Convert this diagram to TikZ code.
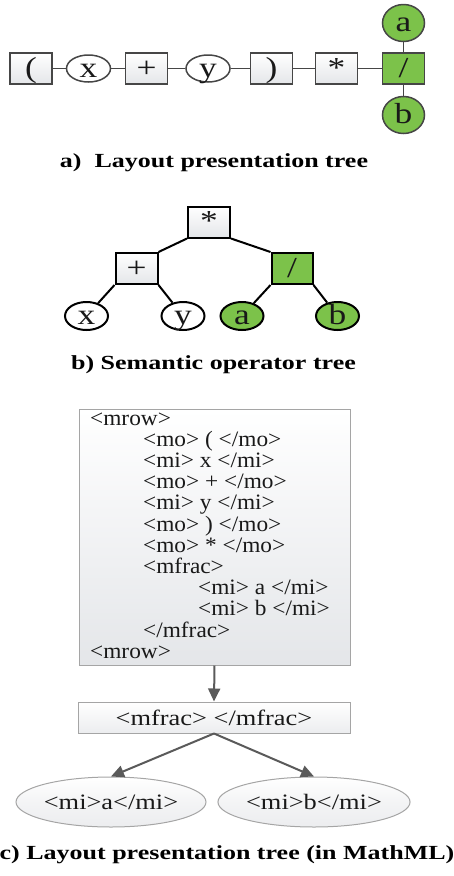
\documentclass[tikz,border=0pt]{standalone}
\usepackage{fontspec}
\setmainfont{Liberation Serif}
\newfontfamily\capfont[FakeStretch=1.3]{Liberation Serif}
\newfontfamily\labfont[FakeStretch=1.22]{Liberation Serif}
\newfontfamily\codefont[FakeStretch=1.06]{Liberation Serif}
\newfontfamily\tagfont[FakeStretch=1.2]{Liberation Serif}
\usetikzlibrary{arrows.meta,shapes.geometric}

\definecolor{leafgreen}{RGB}{124,194,74}
\definecolor{edgegray}{RGB}{70,70,70}
\definecolor{arrowgray}{RGB}{90,90,90}
\definecolor{framegray}{RGB}{165,165,165}
\definecolor{shadegray}{RGB}{228,230,233}
\definecolor{ovalgray}{RGB}{236,237,239}
\definecolor{textgray}{RGB}{25,25,25}

\tikzset{
  lab/.style={inner sep=0pt, text height=17pt, text depth=0pt,
    font=\labfont\fontsize{29pt}{29pt}\selectfont, text=textgray},
  % part a: layout row
  abox/.style={lab, rectangle, draw=edgegray, line width=1.5pt,
    top color=white, bottom color=shadegray,
    minimum width=42pt, minimum height=31pt},
  agbox/.style={lab, rectangle, draw=edgegray, line width=1.5pt,
    fill=leafgreen, minimum width=42pt, minimum height=31pt},
  aell/.style={lab, ellipse, draw=edgegray, line width=1.5pt,
    fill=white, minimum width=44pt, minimum height=27pt},
  agell/.style={lab, ellipse, draw=edgegray, line width=1.5pt,
    fill=leafgreen, minimum width=42pt, minimum height=37pt},
  aline/.style={draw=edgegray, line width=1.5pt},
  % part b: operator tree
  bbox/.style={lab, rectangle, draw=black, line width=2pt,
    top color=white, bottom color=shadegray,
    minimum width=42pt, minimum height=31pt},
  bgbox/.style={lab, rectangle, draw=black, line width=2pt,
    fill=leafgreen, minimum width=41pt, minimum height=31pt},
  bell/.style={lab, ellipse, draw=black, line width=2pt,
    fill=white, minimum width=43pt, minimum height=28pt},
  bgell/.style={lab, ellipse, draw=black, line width=2pt,
    fill=leafgreen, minimum width=43pt, minimum height=28pt},
  bline/.style={draw=black, line width=2pt},
  % captions
  caption/.style={inner sep=0pt, font=\capfont\bfseries\fontsize{20pt}{24pt}\selectfont, text=black},
  % part c: MathML
  codebox/.style={rectangle, draw=framegray, line width=1pt,
    top color=white, bottom color=shadegray,
    minimum width=271pt, minimum height=256pt, inner sep=0pt},
  codeline/.style={anchor=base west, inner sep=0pt,
    font=\codefont\fontsize{22pt}{22pt}\selectfont, text=textgray},
  tagbox/.style={rectangle, draw=framegray, line width=1pt,
    top color=white, bottom color=ovalgray,
    minimum width=272pt, minimum height=31pt, inner sep=0pt,
    font=\tagfont\fontsize{22pt}{22pt}\selectfont, text=textgray},
  tagell/.style={ellipse, draw=framegray, line width=1pt,
    top color=white, bottom color=ovalgray, middle color=ovalgray!60,
    minimum height=50pt, inner sep=0pt,
    font=\tagfont\fontsize{22pt}{22pt}\selectfont, text=textgray},
  arr/.style={draw=arrowgray, line width=2pt,
    -{Triangle[length=13pt,width=12pt]}},
}

\begin{document}
\begin{tikzpicture}[x=1pt,y=-1pt]
\useasboundingbox (0,0) rectangle (453,876);

% ---- a) layout presentation tree ----
\node[abox]  (pl) at (31,68.5)    {(};
\node[aell]  (px) at (88.5,68.5)  {x};
\node[abox]  (pp) at (146.5,68.5) {+};
\node[aell]  (py) at (208,68.5)   {y};
\node[abox]  (pr) at (271.5,68.5) {)};
\node[abox]  (ps) at (336.5,68.5) {*};
\node[agbox] (pd) at (403.5,68.5) {/};
\node[agell] (pa) at (403.5,23)   {a};
\node[agell] (pb) at (403.5,115)  {b};

\draw[aline] (pl) -- (px);
\draw[aline] (px) -- (pp);
\draw[aline] (pp) -- (py);
\draw[aline] (py) -- (pr);
\draw[aline] (pr) -- (ps);
\draw[aline] (ps) -- (pd);
\draw[aline] (pa) -- (pd);
\draw[aline] (pd) -- (pb);

\node[caption] (capa) at (214,163) {a)~~Layout presentation tree};

% ---- b) semantic operator tree ----
\node[bbox]  (ts) at (209,222)     {*};
\node[bbox]  (tp) at (136.5,268.5) {+};
\node[bgbox] (td) at (292,268.5)   {/};
\node[bell]  (tx) at (86.5,316)    {x};
\node[bell]  (ty) at (183,316)     {y};
\node[bgell] (ta) at (242,316)     {a};
\node[bgell] (tb) at (337.5,316)   {b};

\draw[bline] (ts.south west) -- (tp.north east);
\draw[bline] (ts.south east) -- (td.north west);
\draw[bline] (tp.south west) -- (tx);
\draw[bline] (tp.south east) -- (ty);
\draw[bline] (td.south west) -- (ta);
\draw[bline] (td.south east) -- (tb);

\node[caption] (capb) at (213.5,365) {b) Semantic operator tree};

% ---- c) MathML markup ----
\node[codebox] (mrow) at (214.5,537) {};
\node[codeline] (l1)  at (90,425)    {<mrow>};
\node[codeline] (l2)  at (143,446.2) {<mo> ( </mo>};
\node[codeline] (l3)  at (143,467.4) {<mi> x </mi>};
\node[codeline] (l4)  at (143,488.6) {<mo> + </mo>};
\node[codeline] (l5)  at (143,509.8) {<mi> y </mi>};
\node[codeline] (l6)  at (143,531)   {<mo> ) </mo>};
\node[codeline] (l7)  at (143,552.2) {<mo> * </mo>};
\node[codeline] (l8)  at (143,573.4) {<mfrac>};
\node[codeline] (l9)  at (198,594.6) {<mi> a </mi>};
\node[codeline] (l10) at (198,615.8) {<mi> b </mi>};
\node[codeline] (l11) at (143,637)   {</mfrac>};
\node[codeline] (l12) at (90,658.2)  {<mrow>};

\node[tagbox] (mf) at (214,717.5) {<mfrac> </mfrac>};
\node[tagell, minimum width=188pt] (ea) at (111,802) {<mi>a</mi>};
\node[tagell, minimum width=182pt] (eb) at (314,802) {<mi>b</mi>};

\draw[arr] (mrow.south) -- (mf.north);
\draw[arr] (mf.south) -- (ea.north);
\draw[arr] (mf.south) -- (eb.north);

\node[caption] (capc) at (227,855) {c) Layout presentation tree (in MathML)};
\end{tikzpicture}
\end{document}
